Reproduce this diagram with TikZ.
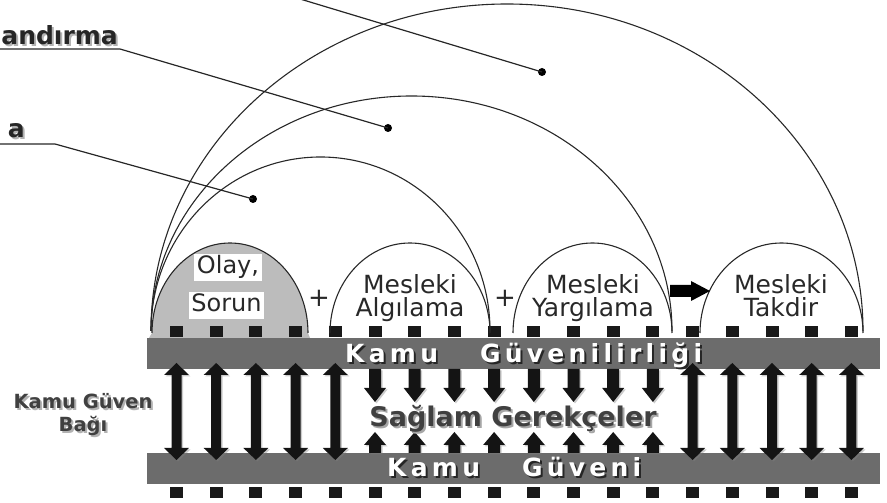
\documentclass[tikz,border=0pt]{standalone}
\usepackage{fontspec}
\setmainfont{DejaVu Sans}
\newfontfamily\barfont[LetterSpace=17]{DejaVu Sans}
\usepackage{xcolor}
\usetikzlibrary{shadows}

\definecolor{barcol}{RGB}{108,108,108}
\definecolor{domecol}{RGB}{188,188,188}
\definecolor{inkcol}{RGB}{40,40,40}

% 带阴影的文字
\newcommand{\shtxt}[3]{\leavevmode\rlap{\raisebox{-2pt}{\hspace*{2pt}\textcolor{#1}{#3}}}\textcolor{#2}{#3}}

\begin{document}
\begin{tikzpicture}[x=1pt,y=1pt,
    arcline/.style={draw=inkcol, line width=1.1pt},
    domelabel/.style={align=center, inner sep=0pt, text=inkcol, font=\fontsize{25}{23}\selectfont},
    boxlabel/.style={fill=white, inner sep=2.5pt, text=inkcol, text height=17pt, text depth=5pt, font=\fontsize{24}{24}\selectfont},
    dotnode/.style={circle, fill=black, inner sep=0pt, minimum size=8pt},
    pointer/.style={draw=black!85, line width=1.2pt},
    blockarrow/.style={fill=black!92, drop shadow={shadow xshift=1.5pt, shadow yshift=-1.5pt, opacity=.4}},
    tie/.style={fill=black!90}]

      % 画布
      \useasboundingbox (0,0) rectangle (887,503);
      \clip (0,0) rectangle (887,503);

      % 参数
      \def\xo{176.5}  % 第一个方块
      \def\gap{39.7}  % 方块间距

      % 灰色半圆: 事件
      \fill[domecol] (149,165) -- (152,170) arc[start angle=180, end angle=0, x radius=78, y radius=90] -- (310,165) -- cycle;

      % 横条
      \fill[barcol] (147,134) rectangle (880,165);
      \fill[barcol] (147,19) rectangle (880,50);

      % 小方块
      \foreach \i in {0,...,17}{
        \fill[tie] ({\xo+\gap*\i-6.5},166) rectangle ++(13,10.5);
        \fill[tie] ({\xo+\gap*\i-6.5},5) rectangle ++(13,11);
      }

      % 双向箭头
      \foreach \i in {0,1,2,3,4,13,14,15,16,17}{
        \pgfmathsetmacro{\x}{\xo+\gap*\i}
        \fill[blockarrow] ({\x-5},55) -- ({\x-5},128) -- ({\x-12.5},128) -- (\x,140)
          -- ({\x+12.5},128) -- ({\x+5},128) -- ({\x+5},55) -- ({\x+12.5},55)
          -- (\x,43) -- ({\x-12.5},55) -- cycle;
      }

      % 上下箭头
      \foreach \i in {5,...,12}{
        \pgfmathsetmacro{\x}{\xo+\gap*\i}
        \fill[blockarrow] ({\x-6},134) -- ({\x-6},115) -- ({\x-11},115) -- (\x,101)
          -- ({\x+11},115) -- ({\x+6},115) -- ({\x+6},134) -- cycle;
        \fill[blockarrow] ({\x-6},50) -- ({\x-6},58) -- ({\x-11},58) -- (\x,71)
          -- ({\x+11},58) -- ({\x+6},58) -- ({\x+6},50) -- cycle;
      }

      % 横条文字
      \node[anchor=base west, inner sep=0pt, font=\barfont\bfseries\fontsize{25}{25}\selectfont] (guvenilirlik) at (345,140)
        {\shtxt{black!85}{white}{Kamu\hspace{42pt}Güvenilirliği}};
      \node[anchor=base west, inner sep=0pt, font=\barfont\bfseries\fontsize{25}{25}\selectfont] (guven) at (387,26)
        {\shtxt{black!85}{white}{Kamu\hspace{42pt}Güveni}};
      \node[anchor=base, inner sep=0pt, font=\bfseries\fontsize{27}{27}\selectfont] (gerekce) at (513,76)
        {\shtxt{black!35}{black!75}{Sağlam Gerekçeler}};

      % 左边标签
      \node[align=center, inner sep=0pt, font=\bfseries\fontsize{19.5}{23}\selectfont] (bag) at (83,87)
        {\shtxt{black!30}{black!75}{Kamu Güven}\\\shtxt{black!30}{black!75}{Bağı}};

      % 大弧
      \draw[arcline] (151,172) arc[start angle=180, end angle=0, x radius=169.5, y radius=174];
      \draw[arcline] (151,172) arc[start angle=180, end angle=0, x radius=260.5, y radius=235];
      \draw[arcline] (151,172) arc[start angle=180, end angle=0, x radius=356, y radius=327];

      % 小弧
      \draw[arcline] (152,170) arc[start angle=180, end angle=0, x radius=78, y radius=90];
      \draw[arcline] (330,170) arc[start angle=180, end angle=0, x radius=80, y radius=90];
      \draw[arcline] (513,170) arc[start angle=180, end angle=0, x radius=79.5, y radius=90];
      \draw[arcline] (700,170) arc[start angle=180, end angle=0, x radius=81.5, y radius=90];

      % 弧内文字
      \node[boxlabel] (olay) at (228,235) {Olay,};
      \node[boxlabel] (sorun) at (226.5,197) {Sorun};
      \node[domelabel, anchor=north] (algilama) at (410,229) {Mesleki\\Algılama};
      \node[domelabel, anchor=north] (yargilama) at (593,229) {Mesleki\\Yargılama};
      \node[domelabel, anchor=north] (takdir) at (781,229) {Mesleki\\Takdir};

      % 加号与粗箭头
      \node[text=inkcol, font=\fontsize{26}{26}\selectfont] (plusa) at (319,205) {+};
      \node[text=inkcol, font=\fontsize{26}{26}\selectfont] (plusb) at (505,205) {+};
      \fill[black] (670,206) -- (691,206) -- (691,202) -- (710,212) -- (691,222) -- (691,218) -- (670,218) -- cycle;

      % 指示线
      \node[dotnode] (dotbig) at (542,431) {};
      \node[dotnode] (dotmid) at (388,375) {};
      \node[dotnode] (dotlow) at (253,304) {};
      \node[anchor=base east, inner sep=0pt, font=\bfseries\fontsize{25}{25}\selectfont] (lblmid) at (118,458)
        {\shtxt{black!30}{black!85}{andırma}};
      \node[anchor=base east, inner sep=0pt, font=\bfseries\fontsize{25}{25}\selectfont] (lbllow) at (25,365)
        {\shtxt{black!30}{black!85}{a}};
      \coordinate (topfree) at (247,520);
      \coordinate (ulmid) at (0,454);
      \coordinate (ullow) at (0,359);
      \draw[pointer] (topfree) -- (dotbig.center);
      \draw[pointer] (ulmid) -- ++(120,0) -- (dotmid.center);
      \draw[pointer] (ullow) -- ++(55,0) -- (dotlow.center);
    \end{tikzpicture}
\end{document}
